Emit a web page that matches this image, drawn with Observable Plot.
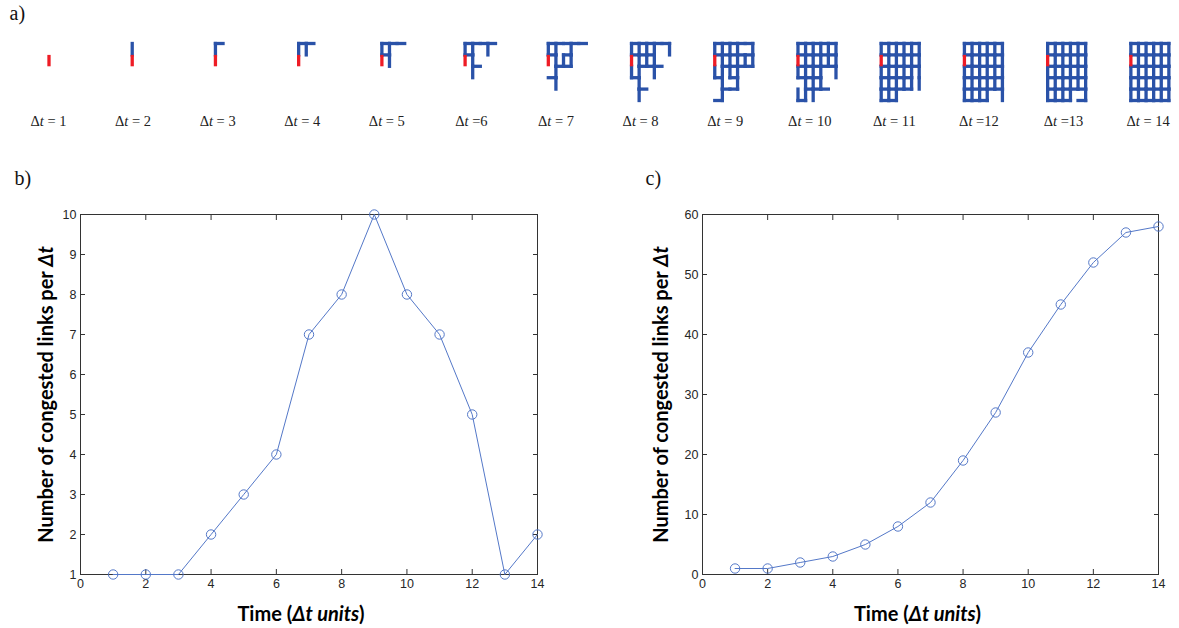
<!DOCTYPE html>
<html><head><meta charset="utf-8">
<script src="https://cdn.jsdelivr.net/npm/d3@7"></script>
<script src="https://cdn.jsdelivr.net/npm/@observablehq/plot@0.6"></script>
<style>
body{margin:0;background:#fff;}
#fig{position:relative;width:1179px;height:628px;overflow:hidden;background:#fff;}
#fig > svg{position:absolute;overflow:visible;}
</style></head><body><div id="fig"></div>
<script>
// ---------- data ----------
const steps = [1,2,3,4,5,6,7,8,9,10,11,12,13,14];
const stepLabels = ["Δt = 1","Δt = 2","Δt = 3","Δt = 4","Δt = 5","Δt =6","Δt = 7","Δt = 8","Δt = 9","Δt = 10","Δt = 11","Δt =12","Δt =13","Δt = 14"];
// links that become congested at each step (H c,r = node(c,r)->(c+1,r); V c,r = node(c,r)->(c,r+1))
const congestedLinksByStep = [
  ["V0,1"],
  ["V0,0"],
  ["H0,0"],
  ["H1,0","V1,0"],
  ["H2,0","V1,1","H0,1"],
  ["H3,0","V3,0","V1,2","H1,2"],
  ["H4,0","V3,1","H2,2","H2,1","V2,1","V1,3","H0,3"],
  ["V5,0","V2,0","H1,1","H3,2","V0,2","V3,2","V1,4","H1,4"],
  ["V4,1","H4,1","V5,1","H4,2","H3,1","V2,2","V3,3","H2,4","H0,5","H2,3"],
  ["V4,0","H0,2","V5,2","H1,3","V2,3","H3,4","V0,4","V2,4"],
  ["V4,2","V5,3","H3,3","V4,3","V0,3","H0,4","H1,5"],
  ["H4,3","H4,4","V5,4","V3,4","H2,5"],
  ["H4,5"],
  ["H3,5","V4,4"]
];
const congestedPerStep = [1,1,1,2,3,4,7,8,10,8,7,5,1,2];
const cumulativeCongested = [1,1,2,3,5,8,12,19,27,37,45,52,57,58];
const xTicks = [0,2,4,6,8,10,12,14];
const yTicksB = [1,2,3,4,5,6,7,8,9,10];
const yTicksC = [0,10,20,30,40,50,60];
const yLabel = "Number of congested links per Δt";
const xLabel = "Time (Δt units)";

// ---------- helpers ----------
const fig = document.getElementById("fig");
const BLUE = "#2a52a8", RED = "#ee1c25", LINE = "#5478c8";

function mixItalic(svg) {
  d3.select(svg).selectAll("text").each(function() {
    const t = this.textContent;
    let parts = null;
    let m;
    if ((m = t.match(/^Δt(.*)$/))) parts = [["Δ", false], ["t", true], [m[1], false]];
    else if (t === yLabel) parts = [["Number of congested links per ", false], ["Δt", true]];
    else if (t === xLabel) parts = [["Time (", false], ["Δt units", true], [")", false]];
    if (!parts) return;
    const el = d3.select(this);
    el.text(null);
    parts.forEach(([s, it]) => {
      const ts = el.append("tspan").text(s);
      if (it) ts.attr("font-style", "italic");
    });
  });
}

// ---------- panel a ----------
const slot = 10.95, labelSlot = 11.13;
const aLinks = [];
steps.forEach((k, i) => {
  for (let s = 0; s <= i; s++) {
    congestedLinksByStep[s].forEach(code => {
      const type = code[0];
      const [c, r] = code.slice(1).split(",").map(Number);
      const off = i * slot;
      aLinks.push({x1: off + c, y1: r, x2: off + c + (type === "H" ? 1 : 0), y2: r + (type === "V" ? 1 : 0), first: s === 0});
    });
  }
});

const panelA = Plot.plot({
  width: 1179, height: 140, margin: 0,
  style: {background: "transparent"},
  x: {type: "linear", domain: [0, 1], range: [48.5, 56.1], axis: null},
  y: {type: "linear", domain: [0, 1], range: [43, 54.4], axis: null},
  marks: [
    Plot.link(aLinks.filter(d => !d.first), {x1: "x1", y1: "y1", x2: "x2", y2: "y2", stroke: BLUE, strokeWidth: 3.3, strokeLinecap: "square"}),
    Plot.link(aLinks.filter(d => d.first), {x1: "x1", y1: "y1", x2: "x2", y2: "y2", stroke: RED, strokeWidth: 3.3, strokeLinecap: "butt"}),
    Plot.text(steps, {x: k => (k - 1) * labelSlot - 0.07, y: 6.85, text: (k, i) => stepLabels[i], fontFamily: "Liberation Serif, serif", fontSize: 14.5, fill: "#222"}),
    Plot.text(["a)"], {frameAnchor: "top-left", textAnchor: "start", lineAnchor: "top", dx: 9, dy: 5, fontFamily: "Liberation Serif, serif", fontSize: 20, fill: "#111"})
  ]
});
panelA.style.left = "0px"; panelA.style.top = "0px";
mixItalic(panelA);
fig.appendChild(panelA);

// ---------- panels b, c ----------
function makeChart({values, yDomain, yTicks, width, marginLeft, marginRight, panel, panelDx, yLabelDx, xLabelDx}) {
  const data = steps.map((t, i) => ({t, v: values[i]}));
  return Plot.plot({
    width, height: 478, marginLeft, marginRight, marginTop: 64, marginBottom: 54,
    style: {fontFamily: "Liberation Sans, Arial, sans-serif", fontSize: "12.5px", color: "#262626", background: "transparent"},
    x: {domain: [0, 14]},
    y: {domain: yDomain},
    marks: [
      Plot.axisX({anchor: "bottom", ticks: xTicks, tickSize: -5, tickPadding: 10, label: null, stroke: "#333", fill: "#262626"}),
      Plot.axisX({anchor: "top", ticks: xTicks, tickSize: -5, fill: "none", label: null, stroke: "#333"}),
      Plot.axisY({anchor: "left", ticks: yTicks, tickSize: -5, tickPadding: 9, label: null, stroke: "#333", fill: "#262626"}),
      Plot.axisY({anchor: "right", ticks: yTicks, tickSize: -5, fill: "none", label: null, stroke: "#333"}),
      Plot.frame({stroke: "#333", strokeWidth: 1}),
      Plot.line(data, {x: "t", y: "v", stroke: LINE, strokeWidth: 1}),
      Plot.dot(data, {x: "t", y: "v", r: 4.7, stroke: LINE, fill: "none", strokeWidth: 1}),
      Plot.text([yLabel], {frameAnchor: "left", textAnchor: "middle", lineAnchor: "middle", rotate: -90, dx: yLabelDx, fontFamily: "Lato, Carlito, sans-serif", fontWeight: "bold", fontSize: 20, fill: "#000"}),
      Plot.text([xLabel], {frameAnchor: "bottom", textAnchor: "middle", lineAnchor: "middle", dy: 40, dx: xLabelDx, fontFamily: "Lato, Carlito, sans-serif", fontWeight: "bold", fontSize: 20, fill: "#000"}),
      Plot.text([panel], {frameAnchor: "top-left", textAnchor: "start", lineAnchor: "top", dx: panelDx, dy: -44, fontFamily: "Liberation Serif, serif", fontSize: 20, fill: "#111"})
    ]
  });
}

const panelB = makeChart({values: congestedPerStep, yDomain: [1, 10], yTicks: yTicksB, width: 580, marginLeft: 80, marginRight: 43, panel: "b)", panelDx: -66, yLabelDx: -34, xLabelDx: -8});
panelB.style.left = "0px"; panelB.style.top = "150px";
mixItalic(panelB);
fig.appendChild(panelB);

const panelC = makeChart({values: cumulativeCongested, yDomain: [0, 60], yTicks: yTicksC, width: 579, marginLeft: 102, marginRight: 21, panel: "c)", panelDx: -57, yLabelDx: -41, xLabelDx: -13});
panelC.style.left = "600px"; panelC.style.top = "150px";
mixItalic(panelC);
fig.appendChild(panelC);
</script></body></html>
